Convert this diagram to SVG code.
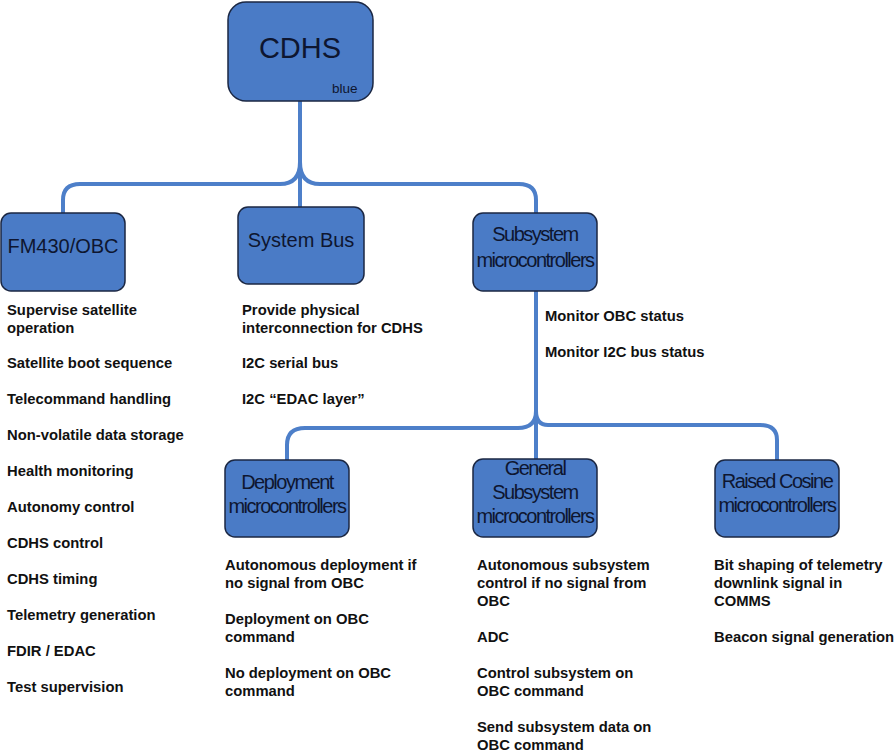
<svg xmlns="http://www.w3.org/2000/svg" width="896" height="754" viewBox="0 0 896 754">
<style>
.box{fill:#4A7BC6;stroke:#1B2743;stroke-width:1.5}
.lbl{font-family:"Liberation Sans",Arial,sans-serif;font-size:20px;fill:#0E1630;text-anchor:middle}
.cnd{letter-spacing:-1.5px}
.note{font-family:"Liberation Sans",Arial,sans-serif;font-size:14.8px;font-weight:bold;fill:#111}
.conn{fill:none;stroke:#4D7FC9;stroke-width:4}
</style>
<rect width="896" height="754" fill="#fff"/>
<g id="connectors">
<path class="conn" d="M300,101 V207"/>
<path class="conn" d="M300,162 Q300,184 280,184 L80,184 Q63,184 63,200 V213"/>
<path class="conn" d="M300,162 Q300,184 320,184 L519,184 Q536,184 536,200 V213"/>
<path class="conn" d="M536,291 V459"/>
<path class="conn" d="M536,411 Q536,428 518,428 L305,428 Q287,428 287,445 V460"/>
<path class="conn" d="M536,411 Q536,425 548,425 L760,425 Q777,425 777,440 V460"/>
</g>
<g id="cdhs">
<rect class="box" x="228" y="2" width="145" height="99" rx="18"/>
<text class="lbl" x="300" y="58" style="font-size:29px">CDHS</text>
<text x="332" y="93" style="font-family:'Liberation Sans',Arial,sans-serif;font-size:13.5px;fill:#0E1630">blue</text>
</g>
<g id="fm430">
<rect class="box" x="1" y="213" width="124" height="78" rx="10"/>
<text class="lbl" x="63" y="253">FM430/OBC</text>
</g>
<g id="systembus">
<rect class="box" x="238" y="207" width="126" height="77" rx="10"/>
<text class="lbl" x="301" y="247">System Bus</text>
</g>
<g id="subsystem">
<rect class="box" x="473" y="213" width="124" height="78" rx="10"/>
<text class="lbl cnd" x="535" y="241">Subsystem</text>
<text class="lbl cnd" x="535" y="267">microcontrollers</text>
</g>
<g id="deployment">
<rect class="box" x="225" y="460" width="124" height="77" rx="10"/>
<text class="lbl cnd" x="287" y="489">Deployment</text>
<text class="lbl cnd" x="287" y="513">microcontrollers</text>
</g>
<g id="general">
<rect class="box" x="473" y="459" width="124" height="78" rx="10"/>
<text class="lbl cnd" x="535" y="475">General</text>
<text class="lbl cnd" x="535" y="499">Subsystem</text>
<text class="lbl cnd" x="535" y="523">microcontrollers</text>
</g>
<g id="raisedcosine">
<rect class="box" x="715" y="460" width="124" height="77" rx="10"/>
<text class="lbl cnd" x="777" y="488">Raised Cosine</text>
<text class="lbl cnd" x="777" y="512">microcontrollers</text>
</g>
<g id="fm430-notes" class="note">
<text x="7" y="315">Supervise satellite</text>
<text x="7" y="332.5">operation</text>
<text x="7" y="368">Satellite boot sequence</text>
<text x="7" y="404">Telecommand handling</text>
<text x="7" y="440">Non-volatile data storage</text>
<text x="7" y="476">Health monitoring</text>
<text x="7" y="512">Autonomy control</text>
<text x="7" y="548">CDHS control</text>
<text x="7" y="584">CDHS timing</text>
<text x="7" y="620">Telemetry generation</text>
<text x="7" y="656">FDIR / EDAC</text>
<text x="7" y="692">Test supervision</text>
</g>
<g id="bus-notes" class="note">
<text x="242" y="315">Provide physical</text>
<text x="242" y="332.5">interconnection for CDHS</text>
<text x="242" y="368">I2C serial bus</text>
<text x="242" y="404">I2C “EDAC layer”</text>
</g>
<g id="subsystem-notes" class="note">
<text x="545" y="321">Monitor OBC status</text>
<text x="545" y="357">Monitor I2C bus status</text>
</g>
<g id="deployment-notes" class="note">
<text x="225" y="570">Autonomous deployment if</text>
<text x="225" y="588">no signal from OBC</text>
<text x="225" y="624">Deployment on OBC</text>
<text x="225" y="642">command</text>
<text x="225" y="678">No deployment on OBC</text>
<text x="225" y="696">command</text>
</g>
<g id="general-notes" class="note">
<text x="477" y="570">Autonomous subsystem</text>
<text x="477" y="588">control if no signal from</text>
<text x="477" y="606">OBC</text>
<text x="477" y="642">ADC</text>
<text x="477" y="678">Control subsystem on</text>
<text x="477" y="696">OBC command</text>
<text x="477" y="732">Send subsystem data on</text>
<text x="477" y="750">OBC command</text>
</g>
<g id="raised-notes" class="note">
<text x="714" y="570">Bit shaping of telemetry</text>
<text x="714" y="588">downlink signal in</text>
<text x="714" y="606">COMMS</text>
<text x="714" y="642">Beacon signal generation</text>
</g>
</svg>
